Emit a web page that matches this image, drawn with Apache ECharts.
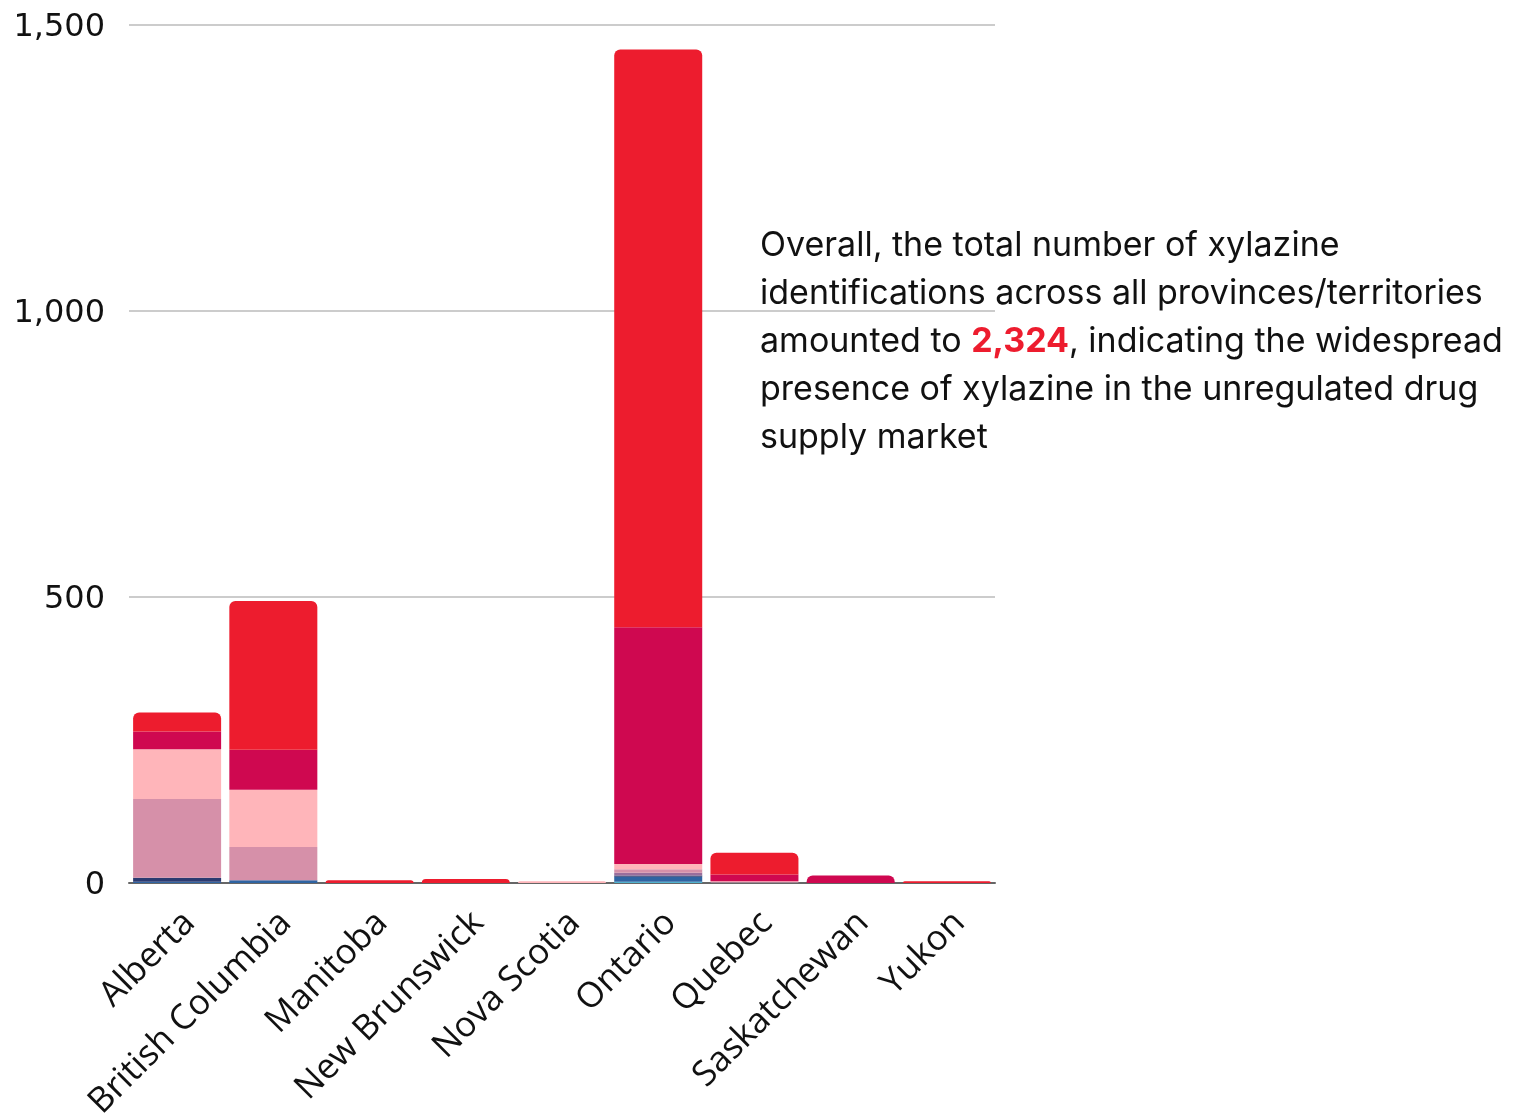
<!DOCTYPE html>
<html>
<head>
<meta charset="utf-8">
<script src="https://cdn.jsdelivr.net/npm/echarts@6/dist/echarts.min.js"></script>
<style>
  html, body { margin: 0; padding: 0; background: #ffffff; }
  #chart { width: 1520px; height: 1115px; }
</style>
</head>
<body>
<div id="chart"></div>
<script>
// Xylazine identifications by province/territory, stacked by period (bottom to top)
const provinces = ['Alberta', 'British Columbia', 'Manitoba', 'New Brunswick', 'Nova Scotia',
                   'Ontario', 'Quebec', 'Saskatchewan', 'Yukon'];

const seriesNames = ['P1', 'P2', 'P3', 'P4', 'P5', 'P6', 'P7', 'P8'];
const seriesColors = ['#4fb3cf', '#2f64a2', '#2b3a70', '#9a6e9c', '#d690a9', '#ffb5ba', '#cf0850', '#ed1c2e'];

const p1 = [0, 0, 0, 0, 0, 2, 0, 0, 0];
const p2 = [2, 5, 0, 0, 0, 9, 0, 0, 0];
const p3 = [7, 0, 0, 0, 0, 2, 1, 0, 0];
const p4 = [0, 0, 0, 0, 0, 5, 0, 0, 0];
const p5 = [138, 58, 0, 0, 0, 6, 0, 0, 0];
const p6 = [87, 100, 0, 0, 3, 9, 2, 0, 0];
const p7 = [31, 70, 0, 0, 0, 414, 12, 13, 0];
const p8 = [33, 260, 5, 7, 0, 1010, 38, 0, 3];

const stackValues = [p1, p2, p3, p4, p5, p6, p7, p8];
const yTicks = [0, 500, 1000, 1500];

const totalText = '2,324';

// index of the top-most non-empty segment in each column (gets rounded corners)
const topIndex = provinces.map((_, c) => {
  let idx = -1;
  stackValues.forEach((arr, s) => { if (arr[c] > 0) idx = s; });
  return idx;
});

const series = stackValues.map((arr, s) => ({
  name: seriesNames[s],
  type: 'bar',
  stack: 'total',
  barWidth: 88,
  itemStyle: { color: seriesColors[s] },
  emphasis: { disabled: true },
  data: arr.map((v, c) => ({
    value: v,
    itemStyle: topIndex[c] === s ? { borderRadius: [6, 6, 0, 0] } : { borderRadius: 0 }
  }))
}));

const chart = echarts.init(document.getElementById('chart'), null, { renderer: 'canvas' });

chart.setOption({
  animation: false,
  backgroundColor: '#ffffff',
  grid: {
    left: 129, right: 525, top: 25, bottom: 232,
    containLabel: false,
    outerBoundsMode: 'none'
  },
  xAxis: {
    type: 'category',
    data: provinces,
    axisLine: { show: true, lineStyle: { color: '#666666', width: 2 } },
    axisTick: { show: false },
    axisLabel: {
      rotate: 45,
      interval: 0,
      margin: 22,
      verticalAlign: 'top',
      color: '#111111',
      fontFamily: 'Open Sans',
      fontSize: 35
    }
  },
  yAxis: {
    type: 'value',
    min: yTicks[0],
    max: yTicks[yTicks.length - 1],
    interval: 500,
    axisLine: { show: false },
    axisTick: { show: false },
    splitLine: { lineStyle: { color: '#cccccc', width: 2 } },
    axisLabel: {
      margin: 24,
      color: '#111111',
      fontFamily: 'DejaVu Sans',
      fontSize: 32,
      formatter: v => '{n|' + v.toLocaleString('en-US') + '}',
      rich: {
        n: {
          fontFamily: 'DejaVu Sans',
          fontSize: 32,
          color: '#111111',
          padding: [6, 0, 0, 0]
        }
      }
    }
  },
  series: series,
  graphic: [{
    type: 'text',
    left: 760,
    top: 222,
    z: 100,
    style: {
      text: 'Overall, the total number of xylazine\n' +
            'identifications across all provinces/territories\n' +
            'amounted to {hl|' + totalText + '}, indicating the widespread\n' +
            'presence of xylazine in the unregulated drug\n' +
            'supply market',
      fontFamily: 'Inter',
      fontSize: 34,
      lineHeight: 48,
      fill: '#111111',
      rich: {
        hl: {
          fontFamily: 'Inter',
          fontSize: 34,
          fontWeight: 'bold',
          lineHeight: 48,
          fill: '#ed1c2e',
          color: '#ed1c2e'
        }
      }
    }
  }]
});
</script>
</body>
</html>
